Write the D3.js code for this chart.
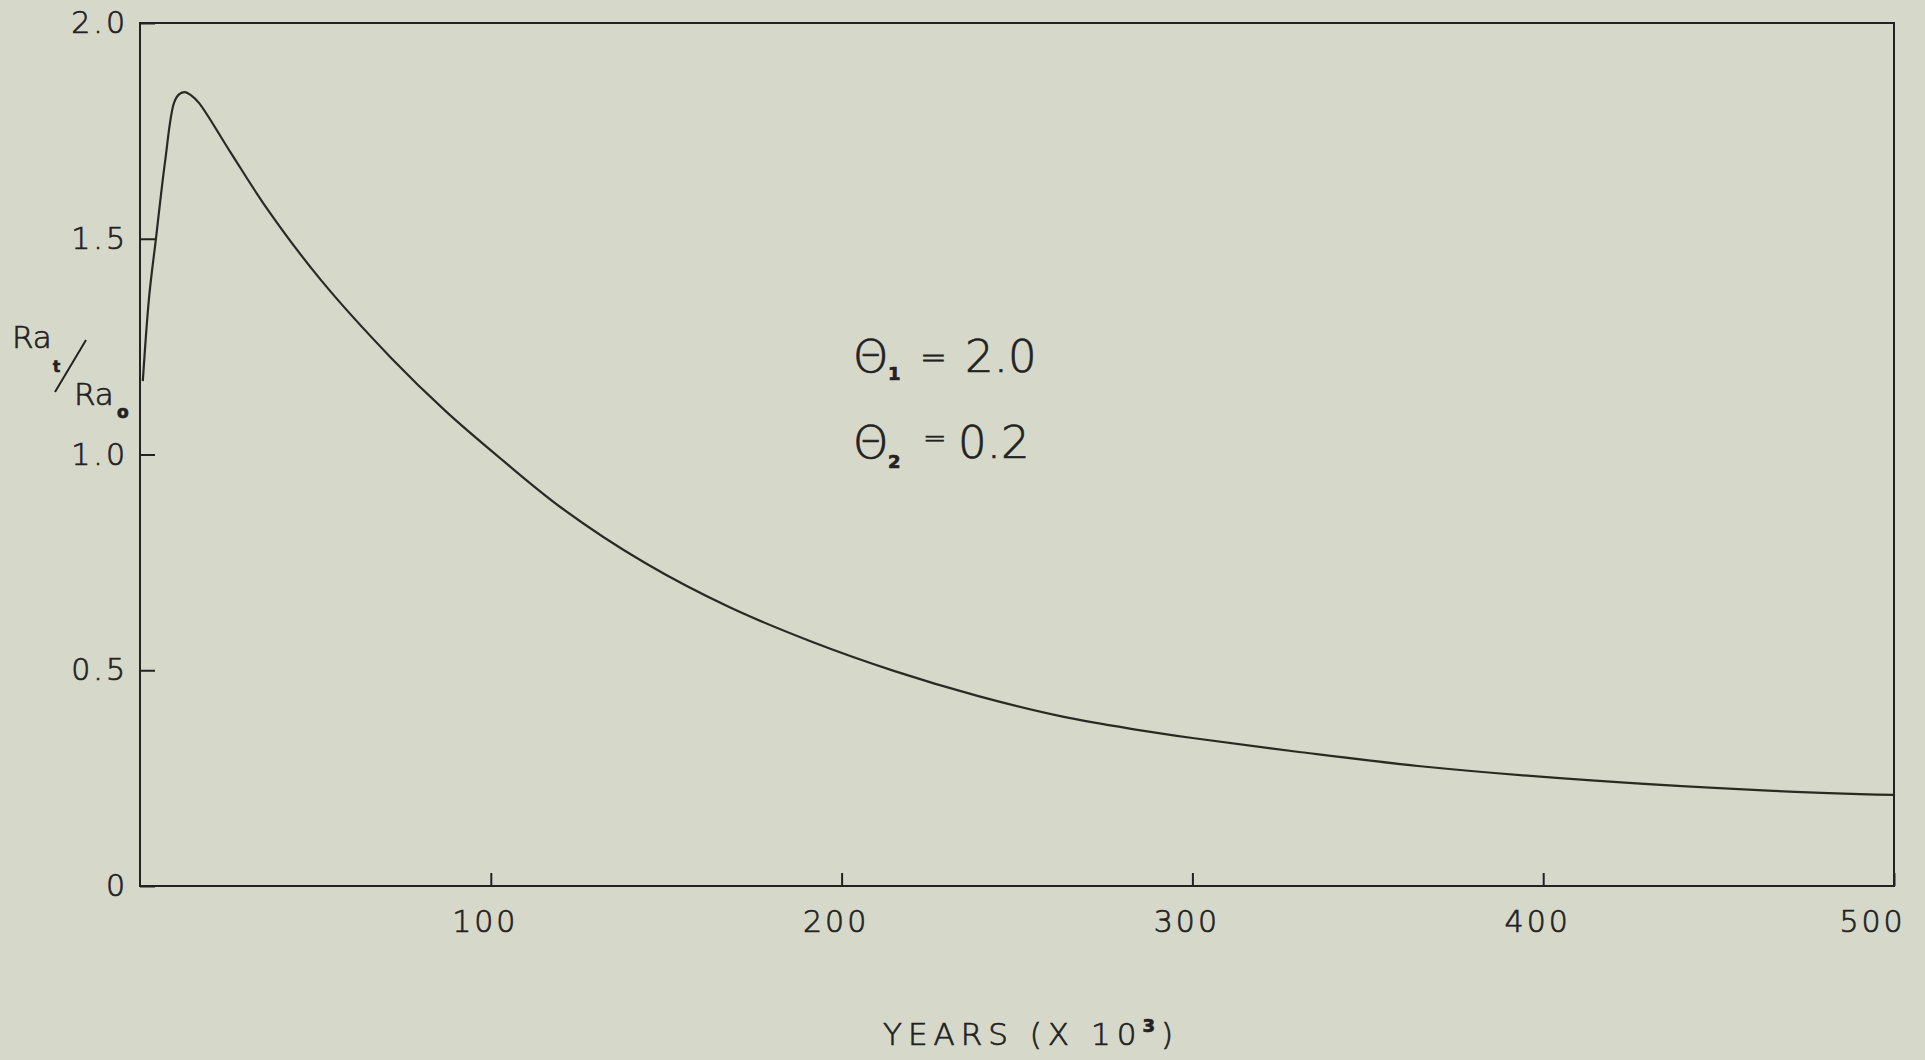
<!DOCTYPE html>
<html lang="en">

<head>
    <meta charset="UTF-8">
    <title>Ra ratio vs years</title>
    <script src="https://cdn.jsdelivr.net/npm/d3@7"></script>

    <style>
        html, body {
            margin: 0;
            padding: 0;
            background: #d6d8ca;
        }

        svg text {
            font-family: "DejaVu Sans", "Liberation Sans", sans-serif;
            font-weight: 200;
            fill: #222;
            stroke: #222;
            stroke-width: 0.7px;
        }

        .axis path.domain {
            display: none;
        }

        .axis line {
            stroke: #222;
            stroke-width: 2px;
        }

        .axis text {
            font-size: 30px;
            letter-spacing: 3px;
        }
    </style>
</head>

<body>

    <svg width="1925" height="1060"></svg>

    <script>

        // values
        var years = [0.8, 2.6, 4.6, 7.1, 9.7, 11.2, 12.8, 14.5, 16.8, 25.9, 36.2, 51.6, 71.8, 87.2, 102.3,
            120.2, 143.9, 167.8, 191.5, 215.1, 239, 262.7, 284.3, 300, 331, 365.8, 414.8, 464.1, 500];
        var ratio = [1.17, 1.365, 1.504, 1.676, 1.815, 1.835, 1.840, 1.833, 1.815, 1.699, 1.570, 1.404, 1.222, 1.100, 0.994,
            0.876, 0.749, 0.647, 0.566, 0.498, 0.440, 0.393, 0.362, 0.343, 0.310, 0.277, 0.244, 0.221, 0.211];

        var xTicks = [100, 200, 300, 400, 500];
        var yTicks = [0, 0.5, 1.0, 1.5, 2.0];

        var svg = d3.select("svg");

        var x = d3.scaleLinear().domain([0, 500]).range([140, 1894]);
        var y = d3.scaleLinear().domain([0, 2]).range([886, 23]);

        // frame
        svg.append("rect")
            .attr("x", x(0))
            .attr("y", y(2))
            .attr("width", x(500) - x(0))
            .attr("height", y(0) - y(2))
            .attr("fill", "none")
            .attr("stroke", "#222")
            .attr("stroke-width", 2);

        var xAxis = svg.append("g")
            .attr("class", "axis")
            .attr("transform", "translate(0," + y(0) + ")")
            .call(d3.axisBottom(x)
                .tickValues(xTicks)
                .tickSize(-13)
                .tickPadding(25)
                .tickFormat(d3.format("d")));

        // the last label sits a little inside the corner in the original
        xAxis.selectAll(".tick text")
            .attr("dx", function(d) { return d === 500 ? -22 : -6; });

        svg.append("g")
            .attr("class", "axis")
            .attr("transform", "translate(" + x(0) + ",0)")
            .call(d3.axisLeft(y)
                .tickValues(yTicks)
                .tickSize(-15)
                .tickPadding(12)
                .tickFormat(function(d) { return d === 0 ? "0" : d.toFixed(1); }));

        // curve
        var line = d3.line()
            .x(function(d, i) { return x(years[i]); })
            .y(function(d) { return y(d); })
            .curve(d3.curveCatmullRom.alpha(0.5));

        svg.append("path")
            .datum(ratio)
            .attr("d", line)
            .attr("fill", "none")
            .attr("stroke", "#2a2a25")
            .attr("stroke-width", 2.2);

        // x axis title
        var xt = svg.append("text")
            .attr("x", 1031)
            .attr("y", 1045)
            .attr("text-anchor", "middle")
            .style("font-size", "31px")
            .style("letter-spacing", "6px");
        xt.append("tspan").text("YEARS  (X 10");
        xt.append("tspan").attr("dy", -13).style("font-size", "18px").style("font-weight", "bold").text("3");
        xt.append("tspan").attr("dy", 13).text(")");

        // y axis label: Ra_t / Ra_o
        var yl = svg.append("g");
        yl.append("text").attr("x", 12).attr("y", 348).style("font-size", "31px").text("Ra");
        yl.append("text").attr("x", 53).attr("y", 372).style("font-size", "15px").style("font-weight", "bold").text("t");
        yl.append("line")
            .attr("x1", 55).attr("y1", 392)
            .attr("x2", 86).attr("y2", 340)
            .attr("stroke", "#222").attr("stroke-width", 2);
        yl.append("text").attr("x", 74).attr("y", 405).style("font-size", "31px").text("Ra");
        yl.append("text").attr("x", 117).attr("y", 418).style("font-size", "17px").style("font-weight", "bold").text("o");

        // parameter annotation
        var ann = svg.append("g");
        ann.append("text").attr("x", 853).attr("y", 372).style("font-size", "45px").text("Θ");
        ann.append("text").attr("x", 888).attr("y", 380).style("font-size", "18px").style("font-weight", "bold").text("1");
        ann.append("text").attr("x", 920).attr("y", 368).style("font-size", "32px").text("=");
        ann.append("text").attr("x", 965).attr("y", 372).style("font-size", "45px").text("2.0");

        ann.append("text").attr("x", 853).attr("y", 458).style("font-size", "45px").text("Θ");
        ann.append("text").attr("x", 888).attr("y", 468).style("font-size", "18px").style("font-weight", "bold").text("2");
        ann.append("text").attr("x", 923).attr("y", 447).style("font-size", "28px").text("=");
        ann.append("text").attr("x", 958).attr("y", 458).style("font-size", "45px").text("0.2");

    </script>

</body>

</html>
